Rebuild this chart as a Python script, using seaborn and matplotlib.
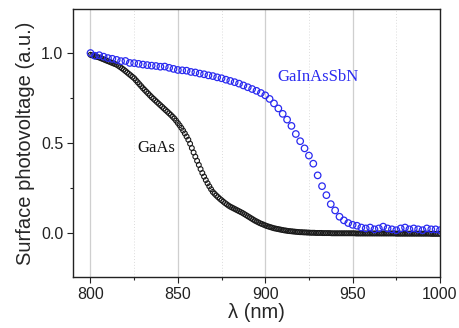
import numpy as np
import pandas as pd
import matplotlib
matplotlib.use("Agg")
import matplotlib.pyplot as plt
import seaborn as sns
from matplotlib.ticker import MultipleLocator

# ---- data ----
gaas_wavelength = list(range(800, 1001, 1))
gaas_signal = [
    0.990, 0.987, 0.984, 0.981, 0.978, 0.975, 0.971, 0.967, 0.963, 0.959,
    0.955, 0.951, 0.947, 0.943, 0.939, 0.935, 0.929, 0.922, 0.915, 0.908,
    0.900, 0.892, 0.884, 0.876, 0.868, 0.860, 0.849, 0.838, 0.827, 0.816,
    0.805, 0.795, 0.785, 0.775, 0.765, 0.755, 0.746, 0.737, 0.728, 0.719,
    0.710, 0.701, 0.692, 0.683, 0.674, 0.665, 0.656, 0.646, 0.636, 0.624,
    0.611, 0.598, 0.584, 0.569, 0.553, 0.536, 0.518, 0.496, 0.472, 0.447,
    0.424, 0.401, 0.378, 0.355, 0.333, 0.313, 0.294, 0.276, 0.259, 0.243,
    0.228, 0.218, 0.208, 0.199, 0.190, 0.182, 0.174, 0.166, 0.159, 0.152,
    0.146, 0.141, 0.136, 0.131, 0.126, 0.121, 0.116, 0.111, 0.105, 0.099,
    0.093, 0.087, 0.081, 0.075, 0.069, 0.064, 0.059, 0.054, 0.050, 0.046,
    0.042, 0.038, 0.035, 0.032, 0.029, 0.026, 0.024, 0.022, 0.020, 0.018,
    0.016, 0.014, 0.013, 0.011, 0.010, 0.009, 0.008, 0.007, 0.006, 0.005,
    0.004, 0.004, 0.003, 0.003, 0.002, 0.002, 0.001, 0.001, 0.001, 0.000,
    0.000, 0.000, 0.000, -0.001, -0.001, -0.001, -0.001, -0.001, -0.002, -0.002,
    -0.002, -0.002, -0.002, -0.002, -0.002, -0.002, -0.002, -0.002, -0.002, -0.002,
    -0.002, -0.002, -0.003, -0.003, -0.003, -0.003, -0.003, -0.003, -0.003, -0.003,
    -0.003, -0.003, -0.003, -0.003, -0.003, -0.003, -0.003, -0.003, -0.003, -0.003,
    -0.003, -0.003, -0.003, -0.003, -0.003, -0.004, -0.004, -0.004, -0.004, -0.004,
    -0.004, -0.004, -0.004, -0.004, -0.004, -0.004, -0.004, -0.004, -0.004, -0.004,
    -0.004, -0.004, -0.004, -0.004, -0.004, -0.005, -0.005, -0.005, -0.005, -0.005,
    -0.005,
]

gainassbn_wavelength = [800 + 2.5 * i for i in range(81)]
gainassbn_signal = [
    1.000, 0.985, 0.988, 0.980, 0.972, 0.968, 0.962, 0.955, 0.956, 0.945,
    0.944, 0.940, 0.936, 0.933, 0.930, 0.928, 0.924, 0.925, 0.918, 0.912,
    0.906, 0.904, 0.902, 0.895, 0.892, 0.886, 0.882, 0.876, 0.872, 0.865,
    0.860, 0.852, 0.845, 0.838, 0.830, 0.820, 0.810, 0.800, 0.790, 0.778,
    0.765, 0.745, 0.720, 0.692, 0.662, 0.630, 0.595, 0.550, 0.510, 0.470,
    0.430, 0.385, 0.320, 0.260, 0.210, 0.160, 0.125, 0.090, 0.070, 0.055,
    0.045, 0.040, 0.030, 0.025, 0.030, 0.020, 0.025, 0.035, 0.025, 0.020,
    0.015, 0.025, 0.030, 0.020, 0.025, 0.020, 0.015, 0.025, 0.020, 0.020,
    0.015,
]

x_ticks = [800, 850, 900, 950, 1000]
y_ticks = [0.0, 0.5, 1.0]
y_tick_labels = ["0.0", "0.5", "1.0"]

gaas_df = pd.DataFrame({"wavelength": gaas_wavelength, "spv": gaas_signal})
gain_df = pd.DataFrame({"wavelength": gainassbn_wavelength, "spv": gainassbn_signal})

# ---- style ----
sns.set_style("white")
plt.rcParams["font.family"] = ["Liberation Sans", "DejaVu Sans"]

fig = plt.figure(figsize=(4.6, 3.28), dpi=100)
ax = fig.add_axes([0.1587, 0.1555, 0.7978, 0.8171])

blue = "#2a2af0"

sns.scatterplot(data=gaas_df, x="wavelength", y="spv", ax=ax, marker="o",
                s=12, facecolor="none", edgecolor="#1a1a1a", linewidth=0.8,
                zorder=3, legend=False)
sns.scatterplot(data=gain_df, x="wavelength", y="spv", ax=ax, marker="o",
                s=22, facecolor="none", edgecolor=blue, linewidth=0.9,
                zorder=4, legend=False)

ax.set_xlim(790, 1000)
ax.set_ylim(-0.245, 1.245)

ax.set_xticks(x_ticks)
ax.xaxis.set_minor_locator(MultipleLocator(25))
ax.set_yticks(y_ticks)
ax.set_yticklabels(y_tick_labels)
ax.yaxis.set_minor_locator(MultipleLocator(0.25))

ax.tick_params(axis="both", which="major", direction="out", length=4,
               width=0.8, labelsize=11.5, colors="#222222", bottom=True, left=True,
               top=False, right=False, pad=3)
ax.tick_params(axis="both", which="minor", direction="out", length=2.5,
               width=0.8, bottom=True, left=True, top=False, right=False)

# vertical grid lines
for v in [800, 850, 900, 950]:
    ax.axvline(v, color="#cfcfcf", lw=0.9, zorder=1)
for v in [825, 875, 925, 975]:
    ax.axvline(v, color="#dcdcdc", lw=0.7, ls=(0, (1, 2)), zorder=1)

for sp in ax.spines.values():
    sp.set_color("#222222")
    sp.set_linewidth(1.0)

ax.set_xlabel("λ (nm)", fontsize=14.5, labelpad=1)
ax.set_ylabel("Surface photovoltage (a.u.)", fontsize=14.5, labelpad=4)

ax.text(837.5, 0.47, "GaAs", family=["Liberation Serif", "DejaVu Serif"],
        fontsize=12, color="#111111", ha="center", va="center")
ax.text(930, 0.865, "GaInAsSbN", family=["Liberation Serif", "DejaVu Serif"],
        fontsize=12, color=blue, ha="center", va="center")

fig.savefig("out.png", dpi=100)
